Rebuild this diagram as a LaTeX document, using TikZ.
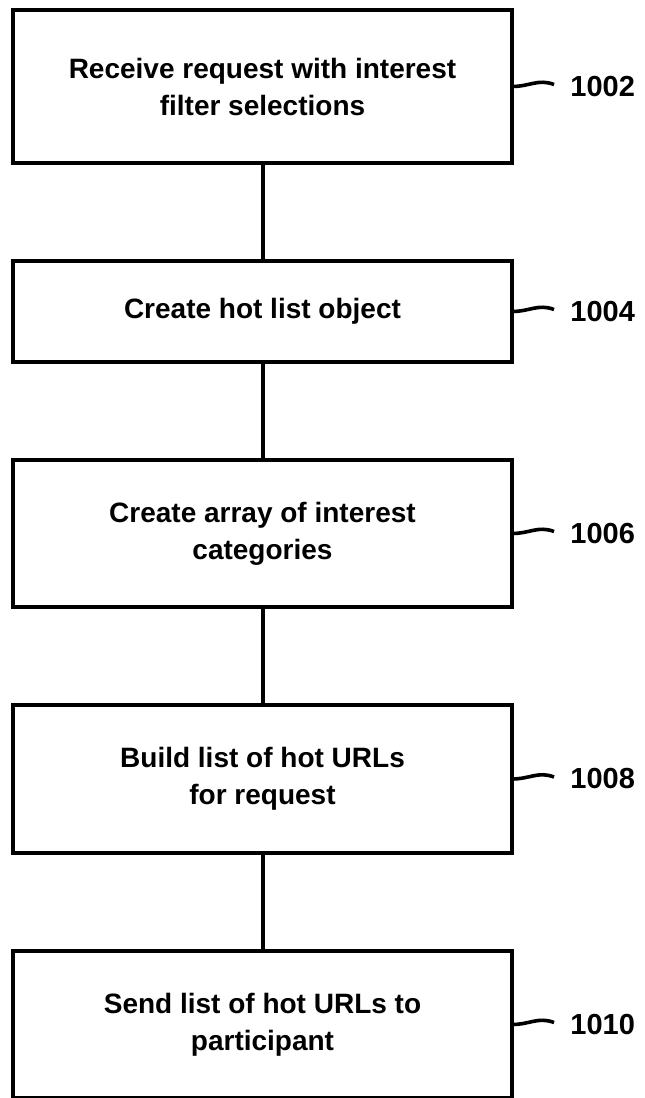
\documentclass[tikz,border=0pt]{standalone}
\usepackage{fontspec}
\setmainfont{Liberation Sans}
\usetikzlibrary{positioning}

\begin{document}
\begin{tikzpicture}[
  node distance=49pt,
  stepbox/.style={draw=black, line width=2.2pt, outer sep=0pt, minimum width=249.5pt, align=center, font=\fontsize{14}{18.5}\selectfont\bfseries},
  reflabel/.style={inner sep=0pt, font=\fontsize{14.5}{16}\selectfont\bfseries},
  link/.style={line width=2pt, draw=black},
  leader/.style={line width=1.8pt, draw=black}
]
\useasboundingbox (0,0) rectangle (322pt,-549pt);
\node[stepbox, minimum height=76.5pt, anchor=north] (receive) at (131.25pt,-5pt) {Receive request with interest\\filter selections};
\node[stepbox, minimum height=50.5pt, below=of receive] (hotobj) {Create hot list object};
\node[stepbox, minimum height=73.5pt, below=of hotobj] (categories) {Create array of interest\\categories};
\node[stepbox, minimum height=74pt, below=of categories] (buildurls) {Build list of hot URLs\\for request};
\node[stepbox, minimum height=73.5pt, below=of buildurls] (sendurls) {Send list of hot URLs to\\participant};

\node[reflabel, right=29pt of receive] (r1002) {1002};
\node[reflabel, right=29pt of hotobj] (r1004) {1004};
\node[reflabel, right=29pt of categories] (r1006) {1006};
\node[reflabel, right=29pt of buildurls] (r1008) {1008};
\node[reflabel, right=29pt of sendurls] (r1010) {1010};

\draw[link] (receive) -- (hotobj);
\draw[link] (hotobj) -- (categories);
\draw[link] (categories) -- (buildurls);
\draw[link] (buildurls) -- (sendurls);

\draw[leader] (receive.east) .. controls +(9pt,0pt) and +(-8pt,3pt) .. ([xshift=-8pt,yshift=1pt]r1002.west);
\draw[leader] (hotobj.east) .. controls +(9pt,0pt) and +(-8pt,3pt) .. ([xshift=-8pt,yshift=1pt]r1004.west);
\draw[leader] (categories.east) .. controls +(9pt,0pt) and +(-8pt,3pt) .. ([xshift=-8pt,yshift=1pt]r1006.west);
\draw[leader] (buildurls.east) .. controls +(9pt,0pt) and +(-8pt,3pt) .. ([xshift=-8pt,yshift=1pt]r1008.west);
\draw[leader] (sendurls.east) .. controls +(9pt,0pt) and +(-8pt,3pt) .. ([xshift=-8pt,yshift=1pt]r1010.west);
\end{tikzpicture}
\end{document}
